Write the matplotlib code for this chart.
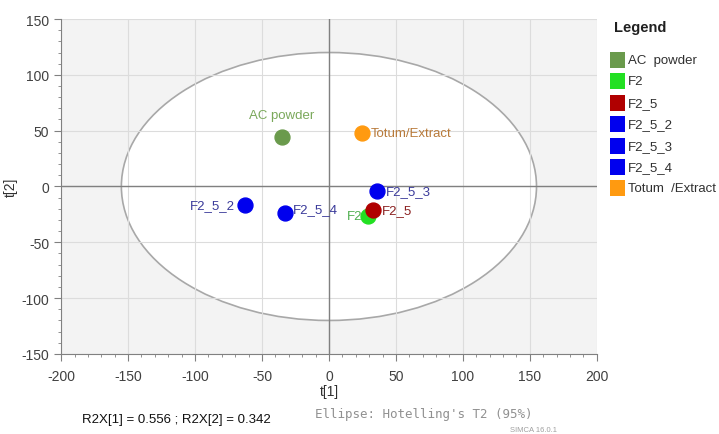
import matplotlib
matplotlib.use("Agg")
import matplotlib.pyplot as plt
from matplotlib.patches import Ellipse, Rectangle
from matplotlib.ticker import MultipleLocator

# PCA scores (t[1], t[2]) per sample
samples = ["AC powder", "F2", "F2_5", "F2_5_2", "F2_5_3", "F2_5_4", "Totum/Extract"]
t1 = [-35, 29, 33, -63, 36, -33, 25]
t2 = [44, -26, -21, -17, -4, -24, 48]
legend_names = ["AC  powder", "F2", "F2_5", "F2_5_2", "F2_5_3", "F2_5_4", "Totum  /Extract"]

colors = ["#6a9a4c", "#22e022", "#b00000", "#0000ee", "#0000ee", "#0000ee", "#ff9a10"]
text_colors = ["#7aa85a", "#4fae4f", "#8a2020", "#3a3a9a", "#3a3a9a", "#3a3a9a", "#b87a3a"]
# label offset in points and alignment
offsets = [(0, 12, "center"), (-4, 0, "right"), (6, 0, "left"), (-7, 0, "right"),
           (6, 0, "left"), (6, -1, "left"), (6, 0, "left")]

# Hotelling's T2 ellipse semi-axes
ell_a, ell_b = 155, 120

plt.rcParams.update({"font.family": "Liberation Sans", "axes.unicode_minus": False})

fig = plt.figure(figsize=(7.19, 4.35), dpi=100)
ax = fig.add_axes([0.085, 0.184, 0.745, 0.770])
ax.set_facecolor("#f3f3f3")
ax.set_xlim(-200, 200)
ax.set_ylim(-150, 150)

ax.add_patch(Ellipse((0, 0), 2 * ell_a, 2 * ell_b, facecolor="white",
                     edgecolor="#a8a8a8", lw=1.2, zorder=0.5))
ax.grid(True, color="#dcdcdc", lw=0.8, zorder=1)
ax.set_axisbelow(True)
ax.axhline(0, color="#808080", lw=1.0, zorder=1.5)
ax.axvline(0, color="#808080", lw=1.0, zorder=1.5)

ax.xaxis.set_major_locator(MultipleLocator(50))
ax.yaxis.set_major_locator(MultipleLocator(50))
ax.xaxis.set_minor_locator(MultipleLocator(10))
ax.yaxis.set_minor_locator(MultipleLocator(10))
ax.tick_params(which="major", length=5, color="#808080", labelsize=10,
               labelcolor="#404040")
ax.tick_params(axis="x", which="major", pad=6)
ax.tick_params(which="minor", length=2.5, color="#808080")
for s in ["top", "right"]:
    ax.spines[s].set_visible(False)
for s in ["left", "bottom"]:
    ax.spines[s].set_color("#808080")

for i, name in enumerate(samples):
    ax.scatter(t1[i], t2[i], s=115, color=colors[i], edgecolor=colors[i],
               zorder=4)
    dx, dy, ha = offsets[i]
    ax.annotate(name, (t1[i], t2[i]), xytext=(dx, dy), textcoords="offset points",
                ha=ha, va="center" if dy == 0 else "bottom", fontsize=9.5,
                color=text_colors[i], zorder=5)

ax.set_xlabel("t[1]", fontsize=10, color="#303030")
ax.xaxis.set_label_coords(0.5, -0.09)
ax.set_ylabel("t[2]", fontsize=10, color="#303030")
ax.yaxis.set_label_coords(-0.08, 0.5)

# legend panel
fig.text(614 / 719, 1 - 28 / 435, "Legend", fontsize=10.5, fontweight="bold",
         color="#202020", ha="left", va="center")
for i, nm in enumerate(legend_names):
    yc = 1 - (61 + i * 21.4) / 435
    fig.patches.append(Rectangle((610 / 719, yc - 8 / 435), 15 / 719, 16 / 435,
                                 transform=fig.transFigure, facecolor=colors[i],
                                 edgecolor="none"))
    fig.text(628 / 719, yc, nm, fontsize=9.5, color="#303030", ha="left", va="center")

fig.text(82 / 719, 1 - 420 / 435, "R2X[1] = 0.556 ; R2X[2] = 0.342", fontsize=9.5,
         color="#101010", ha="left", va="center")
fig.text(315 / 719, 1 - 415 / 435, "Ellipse: Hotelling's T2 (95%)", fontsize=9,
         family="DejaVu Sans Mono", color="#909090", ha="left", va="center")
fig.text(510 / 719, 1 - 431 / 435, "SIMCA 16.0.1", fontsize=5.5, color="#a0a0a0",
         ha="left", va="center")

fig.savefig("out.png", dpi=100, facecolor="white")
